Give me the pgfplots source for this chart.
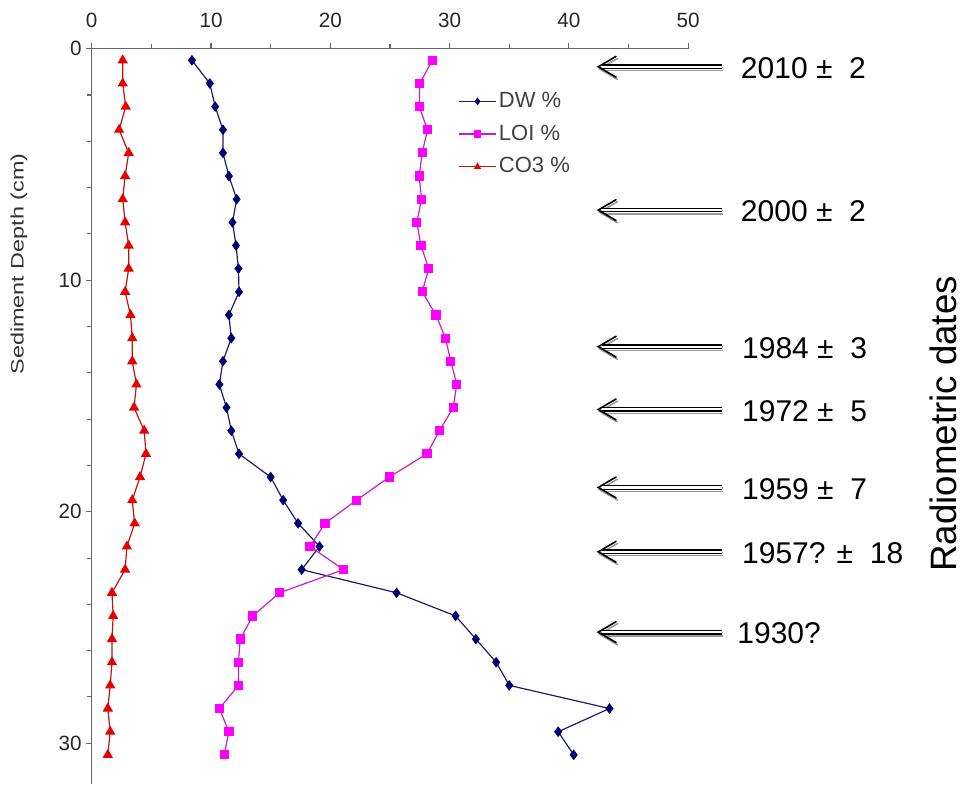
\documentclass[border=0pt]{standalone}
\usepackage{pgfplots}
\pgfplotsset{compat=1.18}
\usepackage{pgfplotstable}
\usetikzlibrary{arrows.meta}
\usepackage{fontspec}
\setmainfont{Liberation Sans}
\definecolor{dwcol}{RGB}{0,0,110}
\definecolor{dwline}{RGB}{30,30,100}
\definecolor{loicol}{RGB}{255,0,255}
\definecolor{loiline}{RGB}{200,30,200}
\definecolor{cocol}{RGB}{230,0,0}
\definecolor{coline}{RGB}{190,20,20}

\pgfplotstableread{
x y
8.4 0.5
9.9 1.5
10.35 2.5
11.0 3.5
11.0 4.5
11.5 5.5
12.15 6.5
11.8 7.5
12.1 8.5
12.3 9.5
12.35 10.5
11.5 11.5
11.7 12.5
11.0 13.5
10.7 14.5
11.3 15.5
11.7 16.5
12.35 17.5
15.0 18.5
16.05 19.5
17.3 20.5
19.1 21.5
17.6 22.5
25.55 23.5
30.5 24.5
32.2 25.5
33.9 26.5
35.0 27.5
43.4 28.5
39.1 29.5
40.4 30.5
}\dwtable

\pgfplotstableread{
x y
28.55 0.5
27.5 1.5
27.45 2.5
28.15 3.5
27.7 4.5
27.45 5.5
27.65 6.5
27.25 7.5
27.6 8.5
28.25 9.5
27.7 10.5
28.85 11.5
29.65 12.5
30.1 13.5
30.6 14.5
30.3 15.5
29.15 16.5
28.1 17.5
24.95 18.5
22.2 19.5
19.55 20.5
18.3 21.5
21.1 22.5
15.75 23.5
13.5 24.5
12.45 25.5
12.3 26.5
12.3 27.5
10.7 28.5
11.5 29.5
11.1 30.5
}\loitable

\pgfplotstableread{
x y
2.6 0.5
2.6 1.5
2.85 2.5
2.3 3.5
3.1 4.5
2.8 5.5
2.6 6.5
2.8 7.5
3.1 8.5
3.1 9.5
2.8 10.5
3.25 11.5
3.4 12.5
3.4 13.5
3.75 14.5
3.55 15.5
4.4 16.5
4.55 17.5
4.05 18.5
3.4 19.5
3.6 20.5
2.95 21.5
2.8 22.5
1.7 23.5
1.8 24.5
1.7 25.5
1.7 26.5
1.55 27.5
1.35 28.5
1.55 29.5
1.35 30.5
}\cotable

\tikzset{
  shaft/.style={double=white, double distance=1.6pt, line width=1pt},
  barb/.style={line width=1.2pt, line cap=round, line join=miter},
  dtext/.style={anchor=west, font=\fontsize{22.5}{26}\selectfont, text height=0.72em, text depth=0pt, inner sep=0pt}
}
\newcommand{\datemark}[3]{%
  \draw[shaft, draw=black!40, xshift=1pt, yshift=-1.6pt] (axis cs:52.8,#1) -- (axis cs:42.75,#1);
  \draw[barb, draw=black!40, xshift=1pt, yshift=-1.6pt] (axis cs:43.95,#1-0.45) -- (axis cs:42.46,#1) -- (axis cs:43.95,#1+0.45);
  \draw[shaft, draw=black] (axis cs:52.8,#1) -- (axis cs:42.75,#1);
  \draw[barb, draw=black] (axis cs:43.95,#1-0.45) -- (axis cs:42.46,#1) -- (axis cs:43.95,#1+0.45);
  \node[dtext] at (axis cs:#2,#1+0.3) {#3};
}

\begin{document}
\begin{tikzpicture}
\path[use as bounding box] (-68.78pt,36.53pt) rectangle (653.48pt,-552.23pt);
\begin{axis}[
  at={(0pt,0pt)}, anchor=north west,
  scale only axis, width=447.4pt, height=551.3pt,
  xmin=0, xmax=50, ymin=0, ymax=31.75, y dir=reverse,
  axis x line=top, axis y line=left,
  axis line style={-, draw=black!60, line width=1pt},
  xtick={0,10,...,50}, minor xtick={5,15,...,45},
  ytick={0,10,20,30}, minor ytick={2,4,...,30},
  tick align=outside,
  major tick length=4pt, minor tick length=3.5pt,
  every tick/.style={draw=black!60, line width=0.8pt},
  tick label style={font=\fontsize{15.5}{18}\selectfont, text=black!85},
  xticklabel style={yshift=8.5pt},
  /pgf/number format/assume math mode=true,
  clip=false,
  legend cell align=left,
  legend style={at={(axis cs:30.4,1.6)}, anchor=north west, draw=none, fill=none,
    font=\fontsize{16.5}{19}\selectfont, text=black!75, row sep=5.5pt,
    nodes={text height=12pt, text depth=3pt, inner sep=2pt}},
  legend image code/.code={\draw[mark repeat=2,mark phase=2,#1,mark size=2.2pt] plot coordinates {(0cm,0cm) (0.48cm,0cm) (0.96cm,0cm)};},
]
\addplot[color=dwline, line width=0.9pt, mark=diamond*, mark size=3.3pt, mark options={fill=dwcol, draw=dwcol}] table[x=x,y=y] {\dwtable};
\addlegendentry{DW \%}
\addplot[color=loiline, line width=0.9pt, mark=square*, mark size=3pt, mark options={fill=loicol, draw=loicol}] table[x=x,y=y] {\loitable};
\addlegendentry{LOI \%}
\addplot[color=coline, line width=0.9pt, mark=triangle*, mark size=3.6pt, mark options={fill=cocol, draw=cocol}] table[x=x,y=y] {\cotable};
\addlegendentry{CO3 \%}

\datemark{0.78}{54.4}{2010 ±~~2}
\datemark{6.97}{54.4}{2000 ±~~2}
\datemark{12.87}{54.5}{1984 ±~~3}
\datemark{15.58}{54.5}{1972 ±~~5}
\datemark{18.95}{54.5}{1959 ±~~7}
\datemark{21.73}{54.5}{1957? ±~~18}
\datemark{25.2}{54.1}{1930?}

\node[rotate=90, inner sep=0pt, font=\fontsize{27.5}{31}\selectfont] at (axis cs:71.4,16.2) {Radiometric dates};
\node[rotate=90, font=\fontsize{13.5}{16}\selectfont, text=black!80] at (axis cs:-6.1,9.3) {\scalebox{1.3}[1]{Sediment Depth (cm)}};
\end{axis}
\end{tikzpicture}
\end{document}
